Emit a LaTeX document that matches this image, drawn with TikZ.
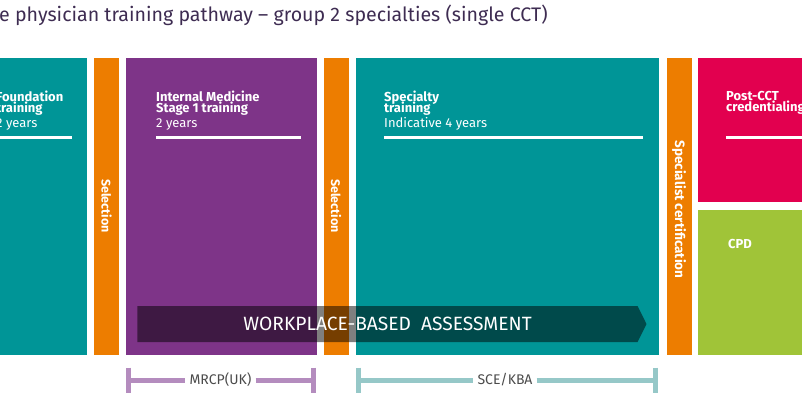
\documentclass[tikz,border=0pt]{standalone}
\usepackage{fontspec}
\setmainfont{Fira Sans}
\usetikzlibrary{shapes.symbols}

\definecolor{rcpteal}{RGB}{0,149,151}
\definecolor{rcporange}{RGB}{237,125,0}
\definecolor{rcppurple}{RGB}{126,52,136}
\definecolor{rcpred}{RGB}{226,0,79}
\definecolor{rcpgreen}{RGB}{160,196,56}
\definecolor{rcptitle}{RGB}{62,44,82}
\definecolor{mrcpcol}{RGB}{180,140,190}
\definecolor{scecol}{RGB}{150,200,200}
\definecolor{examgrey}{RGB}{75,75,75}

\tikzset{
  stage/.style={anchor=north west, inner sep=0pt, minimum height=297pt},
  bar/.style={stage, fill=rcporange, minimum width=24.5pt},
  boxsub/.style={anchor=base west, inner sep=0pt, text=white,
    font=\fontsize{13}{13}\selectfont},
  boxhead/.style={boxsub, font=\bfseries\fontsize{13}{13}\selectfont},
  bartext/.style={rotate=-90, inner sep=0pt, text=white,
    font=\bfseries\fontsize{12.5}{12}\selectfont},
  uline/.style={white, line width=3pt},
  examline/.style={line width=5pt},
  examlabel/.style={inner sep=4pt, text=examgrey, font=\fontsize{14}{14}\selectfont},
}

\begin{document}
\begin{tikzpicture}[x=1pt,y=-1pt]
	\useasboundingbox (0,0) rectangle (802,401);
	\clip (0,0) rectangle (802,401);
	% title
	\node[anchor=base west, inner sep=0pt, text=rcptitle, font=\fontsize{19.6}{22}\selectfont]
		(title) at (-1,22) {e physician training pathway – group 2 specialties (single CCT)};
	% stages
	\node[stage, fill=rcpteal, minimum width=106.5pt] (found) at (-20,58) {};
	\node[bar] (sel1) at (94,58) {};
	\node[stage, fill=rcppurple, minimum width=191pt] (imt) at (126,58) {};
	\node[bar] (sel2) at (324,58) {};
	\node[stage, fill=rcpteal, minimum width=303pt] (spec) at (356,58) {};
	\node[bar] (cert) at (667,58) {};
	\node[stage, fill=rcpred, minimum width=110pt, minimum height=144pt] (post) at (698,58) {};
	\node[stage, fill=rcpgreen, minimum width=110pt, minimum height=145pt] (cpd) at (698,210) {};
	% headings
	\node[boxhead] (founda) at (-4,102) {Foundation};
	\node[boxhead] (foundb) at (-4,113) {training};
	\node[boxsub] (foundc) at (-4,127.5) {2 years};
	\node[boxhead] (imta) at (156,102) {Internal Medicine};
	\node[boxhead] (imtb) at (156,113) {Stage 1 training};
	\node[boxsub] (imtc) at (156,127.5) {2 years};
	\node[boxhead] (speca) at (384,102) {Specialty};
	\node[boxhead] (specb) at (384,113) {training};
	\node[boxsub] (specc) at (384,127.5) {Indicative 4 years};
	\node[boxhead] (posta) at (726,101) {Post-CCT};
	\node[boxhead] (postb) at (726,111.5) {credentialing};
	\node[boxhead] (cpdt) at (728,248) {CPD};
	\draw[uline] (-8,137) -- (72,137);
	\draw[uline] (156,137) -- (301,137);
	\draw[uline] (384,137) -- (643,137);
	\draw[uline] (726,137) -- (810,137);
	% gates
	\node[bartext] (sel1t) at (106.5,206) {Selection};
	\node[bartext] (sel2t) at (336,206) {Selection};
	\node[bartext, font=\bfseries\fontsize{13.5}{12}\selectfont] (certt) at (679,209.5) {Specialist certification};
	% assessment arrow
	\node[signal, signal to=east, signal pointer angle=127, fill=black, fill opacity=0.5,
		text opacity=1, text=white, inner sep=0pt, minimum width=509pt, minimum height=36pt,
		font=\fontsize{19.2}{20}\selectfont] (wba) at (387.5,324) {WORKPLACE-BASED~~ASSESSMENT};
	% exams
	\coordinate (mrcpL) at (128,380);
	\coordinate (mrcpR) at (313,380);
	\node[examlabel] (mrcp) at (220.5,380) {MRCP(UK)};
	\draw[examline, mrcpcol] (mrcpL) -- (mrcp) (mrcp) -- (mrcpR);
	\draw[examline, mrcpcol] ([yshift=12.5pt]mrcpL) -- ([yshift=-12.5pt]mrcpL);
	\draw[examline, mrcpcol] ([yshift=12.5pt]mrcpR) -- ([yshift=-12.5pt]mrcpR);
	\coordinate (sceL) at (358,380);
	\coordinate (sceR) at (655,380);
	\node[examlabel] (sce) at (505,380) {SCE/KBA};
	\draw[examline, scecol] (sceL) -- (sce) (sce) -- (sceR);
	\draw[examline, scecol] ([yshift=12.5pt]sceL) -- ([yshift=-12.5pt]sceL);
	\draw[examline, scecol] ([yshift=12.5pt]sceR) -- ([yshift=-12.5pt]sceR);
\end{tikzpicture}
\end{document}
